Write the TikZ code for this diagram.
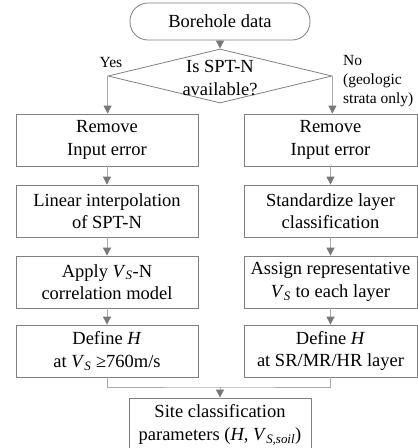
\documentclass[tikz,border=0pt]{standalone}
\usepackage{fontspec}
\setmainfont{Liberation Serif}
\usetikzlibrary{arrows.meta,shapes.geometric}

\definecolor{boxgray}{RGB}{128,128,128}
\definecolor{linegray}{RGB}{170,170,170}
\definecolor{tipgray}{RGB}{120,120,120}
\newcommand{\VS}{\textit{V}\textsubscript{\textit{S}}}

\tikzset{
	box/.style={draw=boxgray, line width=0.8pt, align=center, minimum height=52pt, inner sep=2pt, font=\fontsize{18.5}{22.5}\selectfont},
	lbox/.style={box, minimum width=182pt},
	rbox/.style={box, minimum width=173pt},
	conn/.style={draw=linegray, line width=0.8pt, -{Triangle[length=8pt,width=8pt,color=tipgray]}},
	lbl/.style={font=\fontsize{15.5}{19}\selectfont, align=left, inner sep=0pt}
}

\begin{document}
\begin{tikzpicture}[x=1pt,y=1pt,yscale=-1,xscale=1]
	\useasboundingbox (0,0) rectangle (418,448);
	
	% Terminal
	\node (bore) [box, rounded corners=18pt, minimum width=180pt, minimum height=37pt] at (220,21.5) {Borehole data};
	% Decision
	\node (dec) [draw=boxgray, line width=0.8pt, diamond, inner sep=0pt, minimum width=224pt, minimum height=54pt] at (220,76) {};
	\node (dectxt) [align=center, inner sep=0pt, font=\fontsize{18.5}{23}\selectfont] at (220,78.5) {Is SPT-N\\available?};
	% Text Node
	\node (yes) [lbl] at (111,62) {Yes};
	% Text Node
	\node (no) [lbl, anchor=north west] at (343,55) {No\\(geologic\\strata only)};
	
	% Left column
	\node (lrm) [lbox] at (107,140) {Remove\\Input error};
	\node (lli) [lbox] at (107,211) {Linear interpolation\\of SPT-N};
	\node (lap) [lbox] at (107,282) {Apply \VS-N\\correlation model};
	\node (ldh) [lbox] at (107,351) {Define \textit{H}\\at \VS{} ≥760m/s};
	% Right column
	\node (rrm) [rbox] at (330.5,140) {Remove\\Input error};
	\node (rst) [rbox] at (330.5,211) {Standardize layer\\classification};
	\node (ras) [rbox] at (330.5,282) {Assign representative\\\VS{} to each layer};
	\node (rdh) [rbox] at (330.5,351) {Define \textit{H}\\at SR/MR/HR layer};
	% Result
	\coordinate (mrg) at (220,387);
	\node (site) [lbox, minimum height=54pt] at (220,425) {Site classification\\parameters (\textit{H}, \textit{V}\textsubscript{\textit{S,soil}})};
	
	% Connection
	\draw [conn] (bore.south) -- (dec.north);
	% Connection
	\draw [conn] (dec.west) -- (dec.west |- lrm.north);
	\draw [conn] (dec.east) -- (dec.east |- rrm.north);
	% Connection
	\draw [conn] (lrm) -- (lli);
	\draw [conn] (lli) -- (lap);
	\draw [conn] (lap) -- (ldh);
	\draw [conn] (rrm) -- (rst);
	\draw [conn] (rst) -- (ras);
	\draw [conn] (ras) -- (rdh);
	% Connection
	\draw [draw=linegray, line width=0.8pt] (ldh.south) |- (mrg) -| (rdh.south);
	\draw [conn] (mrg) -- (site.north);
	
\end{tikzpicture}
\end{document}
